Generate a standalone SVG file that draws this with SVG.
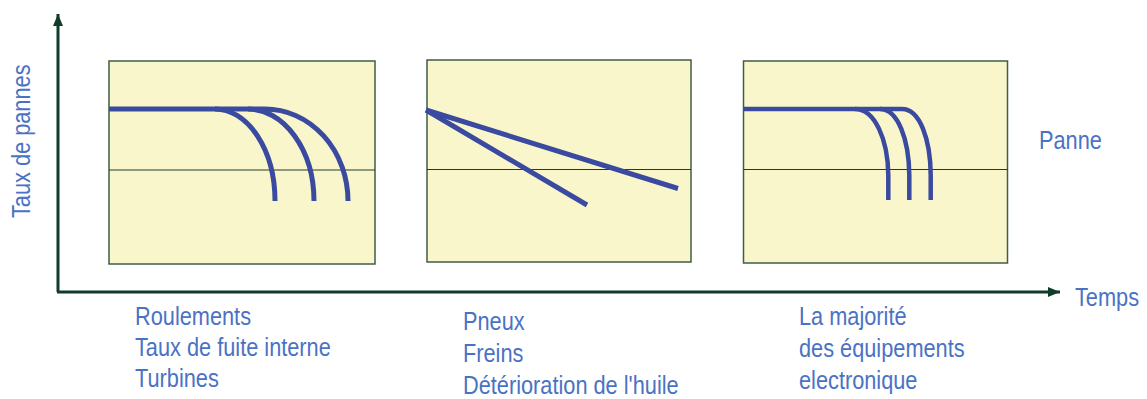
<svg xmlns="http://www.w3.org/2000/svg" width="1147" height="399" viewBox="0 0 1147 399">
<defs>
<style>
.panel{fill:#faf6cc;stroke:#3f5e48;stroke-width:1.5}
.mid{stroke:#1e3d2a;stroke-width:1.2;fill:none}
.curve{fill:none;stroke:#3a4aa0;stroke-width:5;stroke-linejoin:round}
.axis{stroke:#0f3d2a;stroke-width:3;fill:none}
.lbl{font-family:"Liberation Sans",Arial,sans-serif;font-size:25px;fill:#4a72c4}
</style>
<marker id="arr" markerWidth="12" markerHeight="10" refX="12" refY="5" orient="auto" markerUnits="userSpaceOnUse">
<path d="M0,0 L12,5 L0,10 Z" fill="#0f3d2a"/>
</marker>
</defs>
<rect width="1147" height="399" fill="#ffffff"/>
<g id="connectors">
<line class="axis" x1="58" y1="292" x2="58" y2="14" marker-end="url(#arr)"/>
<line class="axis" x1="57" y1="292" x2="1060" y2="292" marker-end="url(#arr)"/>
</g>
<g id="panel1">
<rect class="panel" x="109" y="61" width="266" height="203"/>
<line class="mid" x1="109" y1="170" x2="375" y2="170"/>
<path class="curve" d="M109 109 H215 A60 92 0 0 1 275 201"/>
<path class="curve" d="M215 109 H248 A66 92 0 0 1 314 201"/>
<path class="curve" d="M248 109 H265 A83 92 0 0 1 348 201"/>
</g>
<g id="panel2">
<rect class="panel" x="427" y="60" width="264" height="202"/>
<line class="mid" x1="427" y1="169.5" x2="691" y2="169.5"/>
<path class="curve" d="M426 110 L587 205"/>
<path class="curve" d="M426 110 L678 188.5"/>
</g>
<g id="panel3">
<rect class="panel" x="743.5" y="61" width="264" height="202"/>
<line class="mid" x1="743.5" y1="169.5" x2="1007.5" y2="169.5"/>
<path class="curve" style="stroke-width:4.5" d="M743 109 H855 C875 109 888 140 888.3 175 V200"/>
<path class="curve" style="stroke-width:4.5" d="M855 109 H880 C898 109 909 140 909.3 175 V200"/>
<path class="curve" style="stroke-width:4.5" d="M880 109 H902 C920 109 930.5 140 930.7 175 V200"/>
</g>
<g id="yaxis-label">
<text class="lbl" transform="translate(29.5,218) rotate(-90) scale(0.87,1)">Taux de pannes</text>
</g>
<g id="xaxis-label">
<text class="lbl" transform="translate(1075,306) scale(0.87,1)">Temps</text>
</g>
<g id="panne-label">
<text class="lbl" transform="translate(1039,149) scale(0.87,1)">Panne</text>
</g>
<g id="labels1">
<text class="lbl" transform="translate(135,325) scale(0.87,1)">Roulements</text>
<text class="lbl" transform="translate(135,356) scale(0.87,1)">Taux de fuite interne</text>
<text class="lbl" transform="translate(135,387) scale(0.87,1)">Turbines</text>
</g>
<g id="labels2">
<text class="lbl" transform="translate(463,330) scale(0.87,1)">Pneux</text>
<text class="lbl" transform="translate(463,362) scale(0.87,1)">Freins</text>
<text class="lbl" transform="translate(463,394) scale(0.87,1)">Détérioration de l'huile</text>
</g>
<g id="labels3">
<text class="lbl" transform="translate(799,325) scale(0.87,1)">La majorité</text>
<text class="lbl" transform="translate(799,357) scale(0.87,1)">des équipements</text>
<text class="lbl" transform="translate(799,389) scale(0.87,1)">electronique</text>
</g>
</svg>
